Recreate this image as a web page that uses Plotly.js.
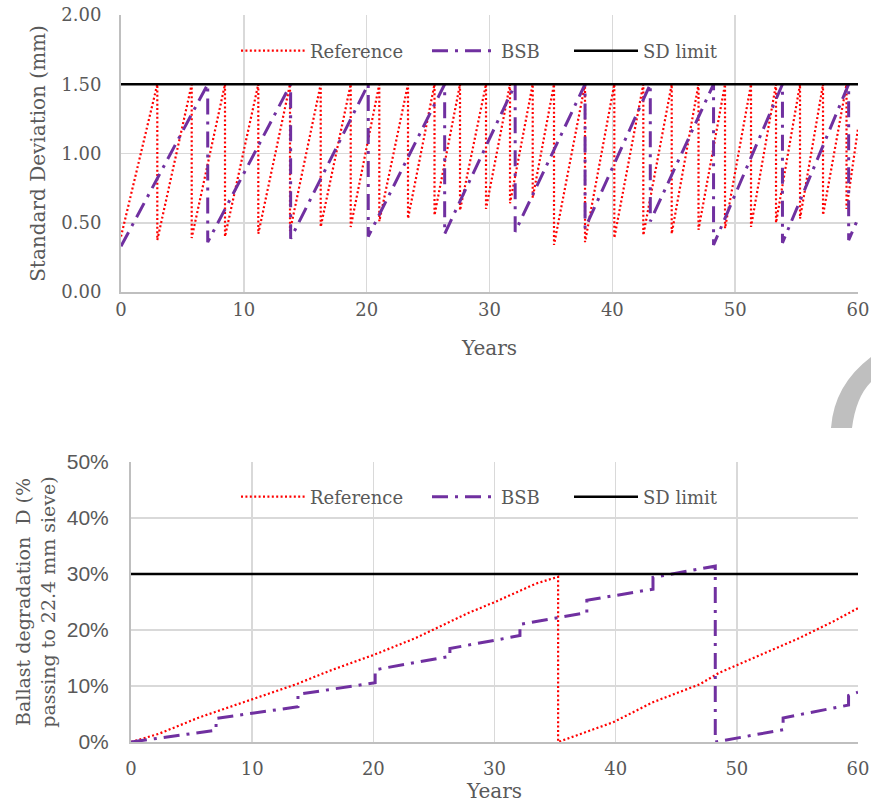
<!DOCTYPE html>
<html><head><meta charset="utf-8">
<script src="https://cdn.plot.ly/plotly-3.0.1.min.js"></script>
<style>html,body{margin:0;padding:0;background:#fff}</style>
</head><body><div id="chart" style="width:871px;height:805px"></div>
<script>
// ---- Top chart: standard deviation (mm) ----
const sdLimit = 1.5;
const refStartSD = 0.40;
const refDropYears = [2.955, 5.756, 8.467, 11.178, 13.759, 16.258, 18.700, 21.029, 23.366, 25.523, 27.599, 29.716, 31.670, 33.518, 35.252, 37.776, 40.161, 42.522, 44.834, 47.016, 49.174, 51.290, 53.326, 55.280, 57.152, 59.065];
const refTroughs   = [0.375, 0.39, 0.40, 0.42, 0.44, 0.47, 0.47, 0.51, 0.53, 0.555, 0.59, 0.60, 0.64, 0.68, 0.34, 0.36, 0.39, 0.41, 0.42, 0.45, 0.46, 0.47, 0.50, 0.53, 0.556, 0.60];
const refEndSD = 1.18;

const bsbStartSD = 0.33;
const bsbDropYears = [7.06, 13.81, 20.13, 26.35, 32.09, 37.78, 43.09, 48.24, 53.85, 59.24];
const bsbTroughs   = [0.36, 0.385, 0.40, 0.42, 0.435, 0.46, 0.51, 0.34, 0.355, 0.375];
const bsbEndSD = 0.53;

// ---- Bottom chart: ballast degradation D (%) ----
const refDYears = [0, 2.34, 5.64, 10.04, 13.62, 16.38, 20.09, 23.53, 27.8, 30.14, 33.44, 35.25, 35.25, 37.57, 39.77, 43.07, 46.93, 48.58, 51.33, 55.19, 57.94, 60];
const refD      = [0, 1.5, 4.4, 7.7, 10.3, 12.7, 15.6, 18.6, 23.0, 25.1, 28.3, 29.5, 0, 1.8, 3.5, 7.1, 10.3, 12.4, 15.0, 18.6, 21.5, 23.9];
const bsbDYears = [0, 7.02, 7.02, 13.78, 13.78, 20.15, 20.15, 26.32, 26.32, 32.1, 32.1, 37.62, 37.62, 43.08, 43.08, 48.22, 48.22, 53.82, 53.82, 59.22, 59.22, 60];
const bsbD      = [0, 2.1, 4.2, 6.3, 8.5, 10.6, 12.9, 15.3, 16.7, 19.0, 21.0, 23.1, 25.3, 27.3, 29.4, 31.4, 0, 2.2, 4.3, 6.6, 8.3, 8.9];
const dLimit = 30;

function saw(start, drops, troughs, endVal) {
  const x = [0], y = [start];
  drops.forEach((d, i) => { x.push(d, d); y.push(sdLimit, troughs[i]); });
  x.push(60); y.push(endVal);
  return {x, y};
}
const refSaw = saw(refStartSD, refDropYears, refTroughs, refEndSD);
const bsbSaw = saw(bsbStartSD, bsbDropYears, bsbTroughs, bsbEndSD);

const RED = '#ff0000', PURPLE = '#7030a0';
const redLine = {color: RED, width: 2.2, dash: '2px,2.4px'};
const purpleLine = {color: PURPLE, width: 3, dash: '16px,7px,3px,7px'};
const blackLine = {color: '#000', width: 2.6};

const traces = [
  {x: refSaw.x, y: refSaw.y, mode: 'lines', name: 'Reference', line: redLine, xaxis: 'x', yaxis: 'y', legend: 'legend'},
  {x: bsbSaw.x, y: bsbSaw.y, mode: 'lines', name: 'BSB', line: purpleLine, xaxis: 'x', yaxis: 'y', legend: 'legend2'},
  {x: [0, 60], y: [sdLimit, sdLimit], mode: 'lines', name: 'SD limit', line: blackLine, xaxis: 'x', yaxis: 'y', legend: 'legend3'},
  {x: refDYears, y: refD, mode: 'lines', name: 'Reference', line: redLine, xaxis: 'x2', yaxis: 'y2', legend: 'legend4'},
  {x: bsbDYears, y: bsbD, mode: 'lines', name: 'BSB', line: purpleLine, xaxis: 'x2', yaxis: 'y2', legend: 'legend5'},
  {x: [0, 60], y: [dLimit, dLimit], mode: 'lines', name: 'SD limit', line: blackLine, xaxis: 'x2', yaxis: 'y2', legend: 'legend6'}
];

const W = 871, H = 805;
const SERIF = 'DejaVu Serif, serif';
const GREY = '#595959';
const px = v => v / W, py = v => 1 - v / H;

const axisCommon = {
  showgrid: true, gridcolor: '#d9d9d9', gridwidth: 1.5,
  showline: true, linecolor: '#bfbfbf', linewidth: 2,
  zeroline: false, ticks: '', automargin: false, fixedrange: true
};
const tickF = {family: SERIF, size: 18, color: GREY};
const titleF = {family: SERIF, size: 20, color: GREY};

function leg(xPix, yPix) {
  return {
    orientation: 'h', x: px(xPix), xanchor: 'left', y: py(yPix), yanchor: 'middle',
    bgcolor: 'rgba(0,0,0,0)', font: {family: SERIF, size: 18, color: GREY}, itemwidth: 64
  };
}

const layout = {
  width: W, height: H,
  margin: {l: 0, r: 0, t: 0, b: 0},
  paper_bgcolor: '#fff', plot_bgcolor: '#fff',
  font: {family: SERIF, color: GREY, size: 18},
  xaxis: Object.assign({}, axisCommon, {
    domain: [px(121), px(858)], anchor: 'y', range: [0, 60], dtick: 10,
    tickfont: tickF, ticklabelstandoff: 0,
    title: {text: 'Years', font: titleF, standoff: 22}
  }),
  yaxis: Object.assign({}, axisCommon, {
    domain: [py(292), py(15)], anchor: 'x', range: [0, 2], dtick: 0.5, tickformat: '.2f',
    tickfont: tickF, ticklabelstandoff: 14,
    title: {text: 'Standard Deviation (mm)', font: titleF, standoff: 10}
  }),
  xaxis2: Object.assign({}, axisCommon, {
    domain: [px(131), px(858)], anchor: 'y2', range: [0, 60], dtick: 10,
    tickfont: tickF, ticklabelstandoff: 9,
    title: {text: 'Years', font: titleF, standoff: 0}
  }),
  yaxis2: Object.assign({}, axisCommon, {
    domain: [py(742), py(462)], anchor: 'x2', range: [0, 50], dtick: 10, ticksuffix: '%',
    tickfont: {family: 'Liberation Sans, Arial, sans-serif', size: 21, color: GREY}, ticklabelstandoff: 16,
    title: {text: 'Ballast degradation  D (%<br>passing to 22.4 mm sieve)', font: {family: SERIF, size: 19, color: GREY}, standoff: 6}
  }),
  legend: leg(236, 51), legend2: leg(427, 51), legend3: leg(569, 51),
  legend4: leg(236, 497), legend5: leg(427, 497), legend6: leg(569, 497),
  shapes: [{
    type: 'path', xref: 'paper', yref: 'paper', layer: 'above',
    path: `M ${px(871)},${py(357)} Q ${px(834)},${py(385)} ${px(831)},${py(428)} L ${px(852)},${py(428)} Q ${px(856)},${py(397)} ${px(871)},${py(382)} Z`,
    fillcolor: '#bfbfbf', line: {width: 0}
  }],
  showlegend: true
};

Plotly.newPlot('chart', traces, layout, {displayModeBar: false, staticPlot: true});
</script>
</body></html>
